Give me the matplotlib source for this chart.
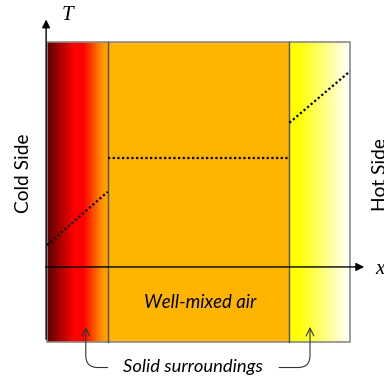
import matplotlib.pyplot as plt
import numpy as np
from matplotlib.colors import LinearSegmentedColormap
from matplotlib.patches import Rectangle

# domain layout (x in wall units, T in same scale)
edges = [0.0, 1.0, 4.0, 5.0]
box_bottom, box_top = -1.24, 3.71

# temperature profile
x_cold = [0.0, 1.0]
T_cold = [0.36, 1.24]
x_air = [1.0, 4.0]
T_air = [1.80, 1.80]
x_hot = [4.0, 5.0]
T_hot = [2.38, 3.23]

labels = ['Cold Side', 'Hot Side']
font = ['Lato', 'DejaVu Sans']

fig = plt.figure(figsize=(3.84, 3.76), dpi=100)
ax = fig.add_axes([0, 0, 1, 1])
ax.set_xlim(-0.776, 5.561)
ax.set_ylim(-1.80, 4.406)
ax.axis('off')

cold_cmap = LinearSegmentedColormap.from_list(
    'cold', [(0, '#5a0000'), (0.45, '#ff0000'), (0.6, '#ff0000'), (0.9, '#ff9000'), (1, '#ffa800')])
hot_cmap = LinearSegmentedColormap.from_list(
    'hot', [(0, '#ffff00'), (0.15, '#ffff00'), (1, '#ffffff')])
grad = np.linspace(0, 1, 256).reshape(1, -1)

ax.imshow(grad, cmap=cold_cmap, aspect='auto', extent=[edges[0], edges[1], box_bottom, box_top], zorder=1)
ax.add_patch(Rectangle((edges[1], box_bottom), edges[2] - edges[1], box_top - box_bottom,
                       facecolor='#ffb400', edgecolor='none', zorder=1))
ax.imshow(grad, cmap=hot_cmap, aspect='auto', extent=[edges[2], edges[3], box_bottom, box_top], zorder=1)

# outline and dividers
ax.add_patch(Rectangle((edges[0], box_bottom), edges[3] - edges[0], box_top - box_bottom,
                       facecolor='none', edgecolor='#8a8a8a', lw=1.2, zorder=2))
for xe in edges[1:3]:
    ax.plot([xe, xe], [box_bottom, box_top], color='#505050', lw=1.0, zorder=2)

# profile
for xs, ts in [(x_cold, T_cold), (x_air, T_air), (x_hot, T_hot)]:
    ax.plot(xs, ts, color='black', lw=1.6, linestyle=(0, (1, 1.1)), zorder=3)

# axes arrows
ax.annotate('', xy=(-0.015, 4.13), xytext=(-0.015, box_bottom),
            arrowprops=dict(arrowstyle='-|>', color='black', lw=1.0, mutation_scale=12), zorder=4)
ax.annotate('', xy=(5.28, 0.0), xytext=(-0.07, 0.0),
            arrowprops=dict(arrowstyle='-|>', color='black', lw=1.0, mutation_scale=12), zorder=4)
ax.text(0.24, 4.15, 'T', family='Liberation Serif', style='italic', fontsize=15, ha='left', va='center')
ax.text(5.42, -0.05, 'x', family='Liberation Serif', style='italic', fontsize=15, ha='left', va='center')

# side labels
ax.text(-0.38, 1.55, labels[0], family=font, fontsize=13.8, rotation=90, ha='center', va='center')
ax.text(5.37, 1.52, labels[1], family=font, fontsize=13.8, rotation=90, ha='left', va='center')

ax.text(2.52, -0.59, 'Well-mixed air', family=font, style='italic', fontsize=13.4, ha='center', va='center')
ax.text(2.40, -1.65, 'Solid surroundings', family=font, style='italic', fontsize=13.2, ha='center', va='center')

arrow_kw = dict(arrowstyle='->', color='#333333', lw=0.8, mutation_scale=14,
                connectionstyle='angle,angleA=0,angleB=90,rad=12', shrinkA=0, shrinkB=0)
ax.annotate('', xy=(0.64, -0.99), xytext=(1.0, -1.66), arrowprops=arrow_kw)
ax.annotate('', xy=(4.34, -0.99), xytext=(3.83, -1.66), arrowprops=arrow_kw)

fig.savefig('out.png', dpi=100)
